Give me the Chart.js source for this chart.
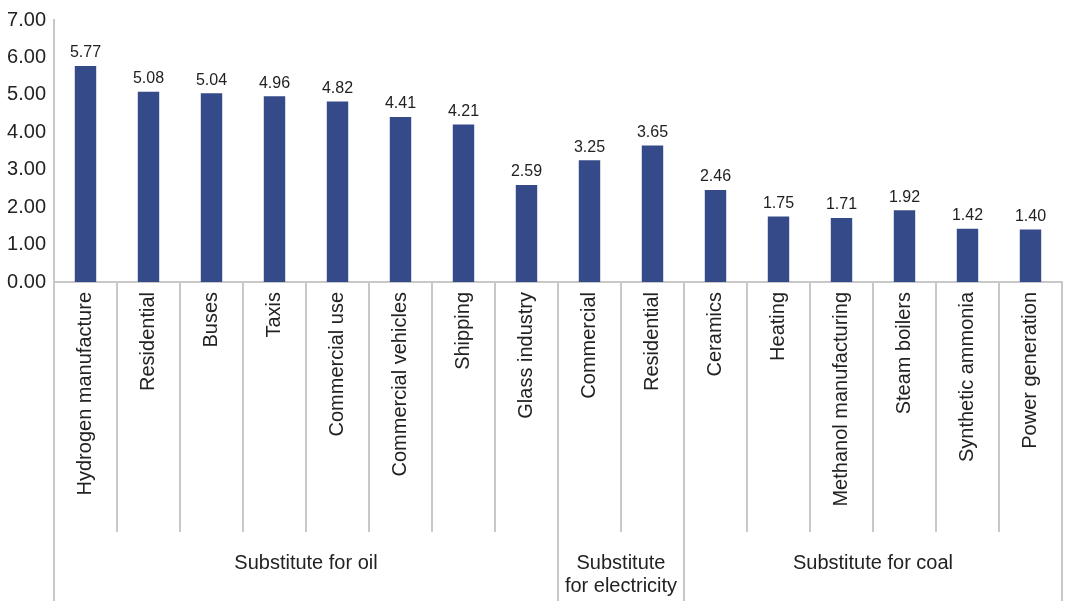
<!DOCTYPE html>
<html>
<head>
<meta charset="utf-8">
<script src="https://cdn.jsdelivr.net/npm/chart.js@4.4.1/dist/chart.umd.min.js"></script>
<style>
  html, body { margin: 0; padding: 0; background: #fff; }
  #wrap { width: 1065px; height: 601px; position: relative; }
</style>
</head>
<body>
<div id="wrap"><canvas id="chart"></canvas></div>
<script>
// Categories and values
var categories = ['Hydrogen manufacture', 'Residential', 'Buses', 'Taxis', 'Commercial use',
    'Commercial vehicles', 'Shipping', 'Glass industry', 'Commercial', 'Residential',
    'Ceramics', 'Heating', 'Methanol manufacturing', 'Steam boilers', 'Synthetic ammonia',
    'Power generation'];
var values = [5.77, 5.08, 5.04, 4.96, 4.82, 4.41, 4.21, 2.59, 3.25, 3.65, 2.46, 1.75, 1.71, 1.92, 1.42, 1.40];

// Groups below the axis
var groupNames = [['Substitute for oil'], ['Substitute', 'for electricity'], ['Substitute for coal']];
var groupSizes = [8, 2, 6];

var lineColor = '#c8c8c8';
var textColor = '#222222';
var barColor = '#344a89';
var fontFamily = 'Arial, "Liberation Sans", sans-serif';

// Separators, group labels, value labels
var decor = {
    id: 'decor',
    afterDatasetsDraw: function (chart) {
        var ctx = chart.ctx;
        var a = chart.chartArea;
        var x = chart.scales.x;
        var half = (x.getPixelForValue(1) - x.getPixelForValue(0)) / 2;

        // group boundaries
        var bounds = [0];
        groupSizes.forEach(function (s) { bounds.push(bounds[bounds.length - 1] + s); });

        ctx.save();
        ctx.strokeStyle = lineColor;
        ctx.lineWidth = 2;
        for (var i = 0; i <= categories.length; i++) {
            var xp = Math.round(x.getPixelForValue(i) - half);
            var isGroup = bounds.indexOf(i) >= 0;
            ctx.beginPath();
            ctx.moveTo(xp, isGroup && i === 0 ? a.top : a.bottom);
            ctx.lineTo(xp, isGroup ? chart.height : a.bottom + 250);
            ctx.stroke();
        }

        // group labels
        ctx.fillStyle = textColor;
        ctx.font = '20px ' + fontFamily;
        ctx.textAlign = 'center';
        ctx.textBaseline = 'middle';
        for (var g = 0; g < groupSizes.length; g++) {
            var x0 = x.getPixelForValue(bounds[g]) - half;
            var x1 = x.getPixelForValue(bounds[g + 1]) - half;
            var lines = groupNames[g];
            for (var l = 0; l < lines.length; l++) {
                ctx.fillText(lines[l], (x0 + x1) / 2, a.bottom + 281 + l * 23);
            }
        }

        // value labels
        ctx.font = '16px ' + fontFamily;
        ctx.textBaseline = 'bottom';
        var meta = chart.getDatasetMeta(0);
        meta.data.forEach(function (bar, i) {
            ctx.fillText(values[i].toFixed(2), bar.x, bar.y - 5);
        });
        ctx.restore();
    }
};

var ctx = document.getElementById('chart').getContext('2d');
var chart = new Chart(ctx, {
    type: 'bar',
    data: {
        labels: categories,
        datasets: [{
            data: values,
            backgroundColor: barColor,
            borderWidth: 0,
            categoryPercentage: 1.0,
            barPercentage: 0.34
        }]
    },
    options: {
        responsive: true,
        maintainAspectRatio: false,
        animation: false,
        layout: { padding: { top: 19, right: 3, left: 0, bottom: 0 } },
        plugins: {
            legend: { display: false },
            tooltip: { enabled: false }
        },
        scales: {
            x: {
                grid: { display: false, drawTicks: false },
                border: { display: true, color: lineColor, width: 2 },
                ticks: {
                    color: textColor,
                    font: { size: 20, family: fontFamily },
                    minRotation: 90,
                    maxRotation: 90,
                    autoSkip: false,
                    padding: 10
                },
                afterFit: function (scale) { scale.height = 319; }
            },
            y: {
                min: 0,
                max: 7,
                grid: { display: false, drawTicks: false },
                border: { display: true, color: lineColor, width: 2 },
                ticks: {
                    stepSize: 1,
                    color: textColor,
                    font: { size: 20, family: fontFamily },
                    padding: 8,
                    callback: function (v) { return v.toFixed(2); }
                },
                afterFit: function (scale) { scale.width = 54; }
            }
        }
    },
    plugins: [decor]
});
</script>
</body>
</html>
